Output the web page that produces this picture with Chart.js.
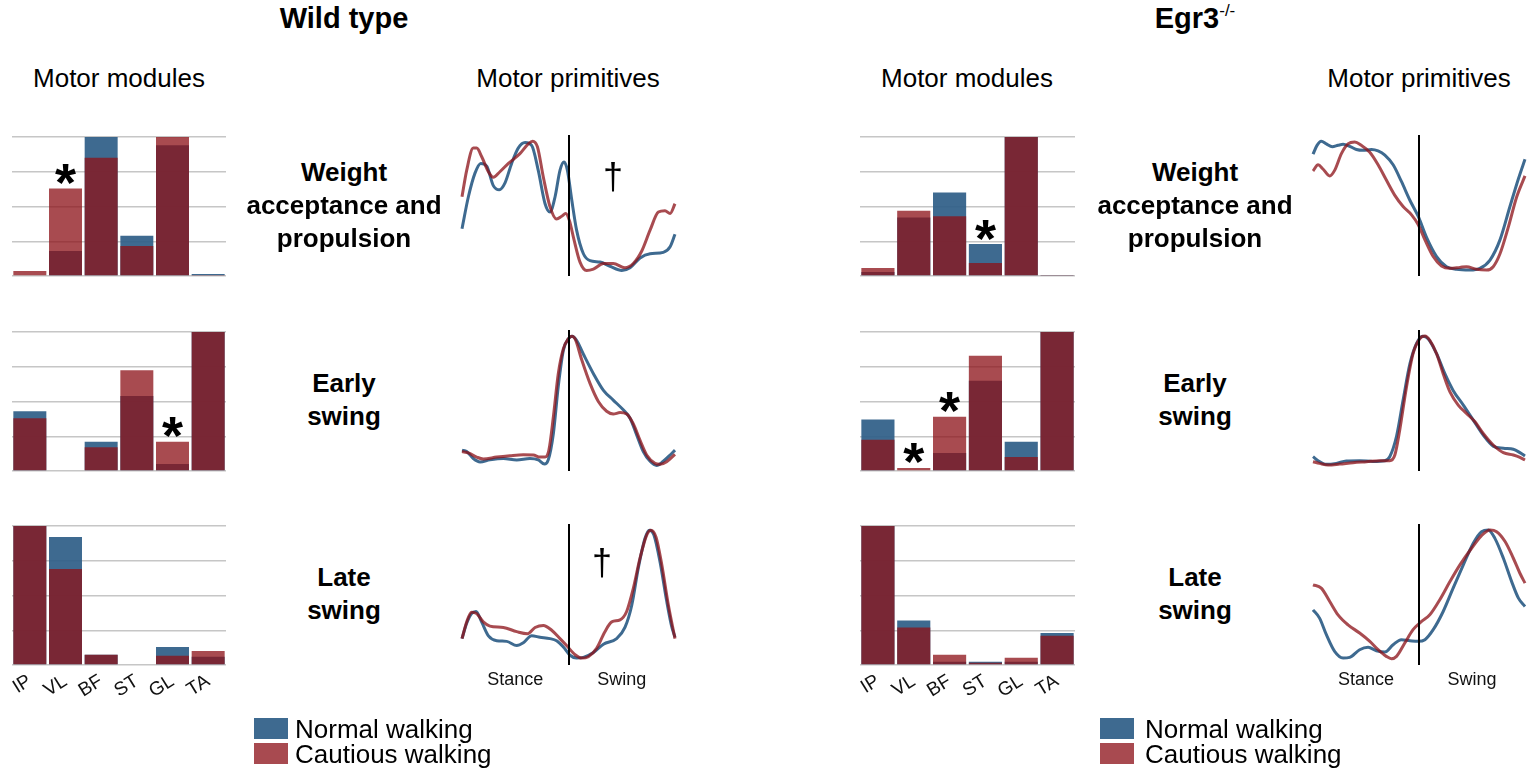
<!DOCTYPE html>
<html>
<head>
<meta charset="utf-8">
<title>Motor modules and motor primitives</title>
<script src="https://cdn.jsdelivr.net/npm/chart.js@4.4.1/dist/chart.umd.min.js"></script>
<style>
  html, body { margin: 0; padding: 0; background: #fff; }
  #fig { position: relative; width: 1528px; height: 770px; overflow: hidden;
         font-family: "Liberation Sans", Arial, Helvetica, sans-serif; color: #000; }
  #fig canvas { position: absolute; }
  .t { position: absolute; white-space: nowrap; }
  .sw { position: absolute; }
</style>
</head>
<body>
<div id="fig"></div>
<script>
// ---- data -------------------------------------------------------------
const muscles = ['IP', 'VL', 'BF', 'ST', 'GL', 'TA'];

// Motor modules (muscle weights, normalised to the largest muscle)
const wtWeightNormal   = [0.005, 0.18, 1.00, 0.29, 0.94, 0.014];
const wtWeightCautious = [0.036, 0.63, 0.85, 0.215, 1.00, 0.004];
const wtEarlyNormal    = [0.43, 0.005, 0.21, 0.54, 0.05, 1.00];
const wtEarlyCautious  = [0.38, 0.005, 0.17, 0.725, 0.21, 1.00];
const wtLateNormal     = [1.00, 0.92, 0.074, 0.006, 0.13, 0.06];
const wtLateCautious   = [1.00, 0.69, 0.074, 0.006, 0.067, 0.10];

const egrWeightNormal   = [0.029, 0.42, 0.60, 0.23, 1.00, 0.007];
const egrWeightCautious = [0.057, 0.47, 0.43, 0.093, 1.00, 0.007];
const egrEarlyNormal    = [0.37, 0.0, 0.13, 0.65, 0.21, 1.00];
const egrEarlyCautious  = [0.225, 0.022, 0.39, 0.83, 0.10, 1.00];
const egrLateNormal     = [1.00, 0.32, 0.024, 0.024, 0.024, 0.23];
const egrLateCautious   = [1.00, 0.27, 0.074, 0.017, 0.053, 0.21];

// Muscles with a significant normal vs cautious difference
const wtWeightSig  = ['VL'];
const wtEarlySig   = ['GL'];
const wtLateSig    = [];
const egrWeightSig = ['ST'];
const egrEarlySig  = ['VL', 'BF'];
const egrLateSig   = [];

// Motor primitives: [% of gait cycle, normalised activation]
const stanceEnd = 50;
const phaseTicks = [25, 75];
const phaseNames = ['Stance', 'Swing'];

const wtWeightNormalCurve = [[0,0.34],[3,0.57],[6.1,0.74],[8.8,0.81],[11.6,0.79],[14.7,0.65],[17.5,0.62],[20.2,0.67],[23.3,0.81],[26.4,0.92],[29.6,0.96],[32.7,0.94],[35.8,0.76],[39,0.52],[41.3,0.46],[43.7,0.57],[46,0.76],[47.9,0.82],[49.5,0.76],[51.5,0.55],[53.8,0.33],[57,0.16],[60.1,0.11],[64.8,0.10],[69.5,0.07],[75,0.04],[78.9,0.06],[83.6,0.13],[88.3,0.16],[94.5,0.17],[97.7,0.21],[100,0.30]];
const wtWeightCautiousCurve = [[0,0.57],[2.2,0.76],[5.3,0.92],[6.9,0.92],[9.2,0.86],[12.4,0.75],[14.7,0.71],[17.8,0.75],[21.8,0.81],[27.2,0.88],[31.1,0.95],[33.2,0.97],[35.4,0.93],[38.2,0.71],[41.3,0.50],[44.4,0.41],[46.8,0.43],[48.7,0.45],[50.4,0.40],[52.6,0.26],[55.4,0.10],[58.5,0.04],[61.7,0.05],[66.4,0.09],[71,0.09],[76.5,0.06],[80.4,0.09],[84.4,0.18],[88.3,0.33],[92.2,0.46],[95.3,0.47],[97.7,0.45],[100,0.52]];
const wtEarlyNormalCurve = [[0,0.15],[2.2,0.14],[5.3,0.09],[8.5,0.065],[13.1,0.08],[19.4,0.09],[25.7,0.08],[31.9,0.09],[35.8,0.08],[38.7,0.05],[40.5,0.08],[42.9,0.27],[45.2,0.61],[47.6,0.87],[49.9,0.95],[51.8,0.97],[53.8,0.94],[57,0.84],[61.7,0.70],[66.4,0.58],[71,0.51],[75.7,0.44],[78.9,0.38],[82,0.26],[85.1,0.14],[88.3,0.07],[91.4,0.04],[94.5,0.07],[97.7,0.115],[100,0.15]];
const wtEarlyCautiousCurve = [[0,0.14],[3,0.13],[6.9,0.10],[10,0.086],[16.3,0.10],[22.5,0.11],[28.8,0.117],[33.5,0.115],[36.6,0.10],[39,0.10],[40.8,0.15],[42.9,0.39],[45.2,0.70],[47.6,0.88],[49.9,0.95],[51.5,0.97],[53.1,0.95],[56.2,0.80],[60.1,0.63],[64,0.50],[67.9,0.43],[71,0.41],[74.2,0.42],[77.3,0.41],[80.4,0.34],[83.6,0.22],[86.7,0.115],[90.6,0.055],[93,0.048],[96.1,0.067],[100,0.12]];
const wtLateNormalCurve = [[0,0.19],[2.2,0.30],[4.5,0.37],[6.6,0.385],[9.2,0.31],[12.4,0.21],[16.3,0.175],[21,0.17],[25.7,0.14],[28.8,0.16],[32.7,0.21],[36.6,0.20],[41.3,0.19],[44.4,0.175],[47.6,0.13],[50.7,0.07],[53.8,0.05],[57,0.055],[61.7,0.09],[66.4,0.15],[72.6,0.19],[76.5,0.27],[79.7,0.43],[82.8,0.70],[85.9,0.91],[88,0.97],[90.1,0.935],[93,0.74],[96.1,0.46],[98.4,0.28],[100,0.20]];
const wtLateCautiousCurve = [[0,0.19],[2.2,0.31],[4.5,0.38],[6.9,0.37],[10,0.31],[13.1,0.28],[19.4,0.27],[25.7,0.24],[30.7,0.225],[34.3,0.27],[38.2,0.285],[42.1,0.25],[46,0.19],[49.1,0.14],[53.1,0.074],[56.2,0.05],[59.3,0.06],[63.2,0.12],[67.1,0.24],[70.3,0.31],[74.2,0.325],[77.3,0.385],[80.4,0.55],[83.6,0.77],[86.7,0.935],[88.7,0.97],[91.1,0.92],[93.7,0.73],[96.9,0.43],[100,0.19]];

const egrWeightNormalCurve = [[0,0.876],[1.9,0.94],[3.9,0.97],[6.3,0.95],[9.1,0.93],[11.8,0.94],[14.2,0.947],[17.3,0.933],[20.5,0.91],[23.6,0.904],[27.6,0.91],[30.7,0.90],[33.9,0.87],[37.8,0.80],[41.7,0.68],[45.7,0.545],[49.6,0.43],[53.5,0.28],[58.3,0.14],[63,0.067],[67.7,0.048],[74,0.043],[78.7,0.055],[83.5,0.115],[88.2,0.26],[92.9,0.50],[96.9,0.70],[100,0.84]];
const egrWeightCautiousCurve = [[0,0.756],[2.4,0.80],[4.7,0.77],[7.9,0.72],[10.2,0.76],[13.4,0.88],[16.5,0.95],[19.7,0.964],[22.8,0.94],[26.8,0.89],[30.7,0.80],[34.6,0.69],[38.6,0.58],[42.5,0.50],[46.5,0.44],[49.6,0.37],[52.8,0.26],[56.7,0.14],[60.6,0.072],[64.6,0.055],[69.3,0.062],[72.4,0.067],[77.2,0.048],[81.9,0.043],[85,0.067],[88.2,0.16],[92.1,0.35],[96.1,0.57],[100,0.72]];
const egrEarlyNormalCurve = [[0,0.103],[2.4,0.074],[6.3,0.048],[11,0.055],[15.7,0.072],[22,0.074],[28.3,0.069],[33.9,0.074],[36.2,0.103],[39.4,0.25],[42.5,0.51],[45.7,0.77],[48.8,0.916],[51.7,0.969],[54.3,0.952],[58.3,0.844],[62.2,0.70],[66.1,0.58],[70.9,0.474],[75.6,0.366],[80.3,0.258],[85,0.179],[89.8,0.163],[94.5,0.156],[97.6,0.132],[100,0.108]];
const egrEarlyCautiousCurve = [[0,0.067],[3.1,0.055],[7.1,0.043],[12.6,0.05],[18.9,0.06],[25.2,0.067],[31.5,0.074],[36.2,0.074],[38.6,0.115],[40.9,0.294],[44.1,0.605],[47.2,0.844],[50.4,0.952],[52.8,0.971],[55.1,0.94],[58.3,0.844],[61.4,0.70],[64.6,0.569],[68.5,0.474],[72.4,0.414],[76.4,0.354],[80.3,0.27],[85,0.187],[89.8,0.132],[94.5,0.115],[97.6,0.098],[100,0.079]];
const egrLateNormalCurve = [[0,0.397],[3.1,0.337],[6.3,0.218],[10.2,0.098],[14.2,0.05],[17.3,0.055],[22,0.11],[26,0.127],[29.9,0.103],[33.9,0.093],[37.8,0.146],[41.7,0.182],[45.7,0.175],[49.6,0.17],[52.8,0.182],[56.7,0.254],[61.4,0.385],[66.1,0.553],[70.9,0.72],[75.6,0.876],[79.5,0.959],[82.7,0.971],[85.8,0.911],[89.8,0.768],[93.7,0.60],[96.9,0.481],[100,0.421]];
const egrLateCautiousCurve = [[0,0.577],[3.9,0.553],[7.9,0.457],[11.8,0.361],[16.5,0.289],[22,0.23],[26.8,0.17],[30.7,0.11],[34.6,0.062],[37,0.045],[39.4,0.062],[43.3,0.158],[47.2,0.254],[51.2,0.313],[55.1,0.361],[59.8,0.469],[64.6,0.60],[69.3,0.72],[74.8,0.84],[79.5,0.931],[83.5,0.971],[86.6,0.959],[90.6,0.888],[94.5,0.768],[97.6,0.66],[100,0.589]];

// ---- styling ----------------------------------------------------------
const FONT = '"Liberation Sans", Arial, Helvetica, sans-serif';
const BLUE_BAR = 'rgba(47,95,136,0.93)';
const BLUE = 'rgb(62,106,144)';
const RED = 'rgba(141,18,25,0.76)';
const RED_ON_WHITE = 'rgb(168,74,80)';
const fig = document.getElementById('fig');

// ---- plugins ----------------------------------------------------------
// asterisk above the taller of the two bars for each flagged muscle
const sigPlugin = {
  id: 'sig',
  afterDatasetsDraw(chart, args, opts) {
    const marks = opts.marks || [];
    if (!marks.length) return;
    const { ctx } = chart;
    const xs = chart.scales.x, ys = chart.scales.y;
    ctx.save();
    ctx.font = 'bold 54px ' + FONT;
    ctx.fillStyle = '#000';
    ctx.textAlign = 'center';
    ctx.textBaseline = 'alphabetic';
    const m = ctx.measureText('*');
    const asc = m.actualBoundingBoxAscent, desc = m.actualBoundingBoxDescent;
    marks.forEach(name => {
      const i = chart.data.labels.indexOf(name);
      const top = Math.max(...chart.data.datasets.map(d => d.data[i]));
      const cx = xs.getPixelForValue(i);
      const cy = ys.getPixelForValue(top) - opts.gap;
      ctx.fillText('*', cx, cy + (asc - desc) / 2);
    });
    ctx.restore();
  }
};

// vertical line marking the stance / swing transition
const phasePlugin = {
  id: 'phase',
  afterDatasetsDraw(chart, args, opts) {
    const { ctx, chartArea } = chart;
    const px = Math.round(chart.scales.x.getPixelForValue(opts.at));
    ctx.save();
    ctx.strokeStyle = '#000';
    ctx.lineWidth = 2;
    ctx.beginPath();
    ctx.moveTo(px, chartArea.top - 2);
    ctx.lineTo(px, chartArea.bottom);
    ctx.stroke();
    ctx.restore();
  }
};

// ---- helpers ----------------------------------------------------------
function addCanvas(left, top, w, h, pad, extra) {
  const c = document.createElement('canvas');
  const cw = w + 2 * pad, ch = h + 2 * pad + extra;
  c.width = cw; c.height = ch;
  c.style.left = (left - pad) + 'px';
  c.style.top = (top - pad) + 'px';
  c.style.width = cw + 'px';
  c.style.height = ch + 'px';
  fig.appendChild(c);
  return c;
}

function moduleChart(left, top, w, h, normal, cautious, sig, showNames) {
  const pad = 24, extra = showNames ? 42 : 0;
  const c = addCanvas(left, top, w, h, pad, extra);
  return new Chart(c, {
    type: 'bar',
    data: {
      labels: muscles,
      datasets: [
        { label: 'Normal walking', data: normal, backgroundColor: BLUE_BAR, borderWidth: 0,
          grouped: false, order: 2, barPercentage: 0.925, categoryPercentage: 1 },
        { label: 'Cautious walking', data: cautious, backgroundColor: RED, borderWidth: 0,
          grouped: false, order: 1, barPercentage: 0.925, categoryPercentage: 1 }
      ]
    },
    options: {
      responsive: false, animation: false, devicePixelRatio: 1,
      layout: { padding: { left: pad, right: pad, top: pad, bottom: pad } },
      plugins: { legend: { display: false }, tooltip: { enabled: false }, sig: { marks: sig, gap: 14 } },
      scales: {
        x: {
          display: showNames, offset: true,
          grid: { display: false, drawTicks: false }, border: { display: false },
          ticks: { autoSkip: false, minRotation: 32, maxRotation: 32, padding: 5, color: '#111',
                   font: { family: FONT, size: 19 } },
          afterFit: s => { s.height = extra; }
        },
        y: {
          min: 0, max: 1,
          ticks: { display: false, stepSize: 0.25 },
          grid: { color: '#c6c6c6', lineWidth: 1.5, drawTicks: false },
          border: { display: false },
          afterFit: s => { s.width = 0; }
        }
      }
    },
    plugins: [sigPlugin]
  });
}

function primitiveChart(left, top, w, h, normal, cautious, showPhases) {
  const pad = 24, extra = showPhases ? 30 : 0;
  const c = addCanvas(left, top, w, h, pad, extra);
  const line = (label, data, color, order) => ({
    label, data, borderColor: color, borderWidth: 3, pointRadius: 0,
    cubicInterpolationMode: 'monotone', fill: false, clip: false, order
  });
  return new Chart(c, {
    type: 'line',
    data: { datasets: [line('Normal walking', normal, BLUE, 2), line('Cautious walking', cautious, RED, 1)] },
    options: {
      responsive: false, animation: false, devicePixelRatio: 1,
      layout: { padding: { left: pad, right: pad, top: pad, bottom: pad } },
      plugins: { legend: { display: false }, tooltip: { enabled: false }, phase: { at: stanceEnd } },
      scales: {
        x: {
          type: 'linear', min: 0, max: 100, display: showPhases,
          grid: { display: false, drawTicks: false }, border: { display: false },
          afterBuildTicks: s => { s.ticks = phaseTicks.map(v => ({ value: v })); },
          ticks: { autoSkip: false, maxRotation: 0, padding: 4, color: '#111',
                   font: { family: FONT, size: 18 },
                   callback: v => phaseNames[phaseTicks.indexOf(v)] },
          afterFit: s => { s.height = extra; }
        },
        y: { min: 0, max: 1, display: false }
      }
    },
    plugins: [phasePlugin]
  });
}

function text(html, x, baseline, size, bold, align) {
  const d = document.createElement('div');
  d.className = 't';
  d.style.fontSize = size + 'px';
  d.style.lineHeight = size + 'px';
  d.style.fontWeight = bold ? 'bold' : 'normal';
  d.style.top = (baseline - 0.8465 * size) + 'px';
  d.style.left = x + 'px';
  if (align !== 'left') d.style.transform = 'translateX(-50%)';
  d.innerHTML = html;
  fig.appendChild(d);
}

function swatch(x, y, color) {
  const s = document.createElement('div');
  s.className = 'sw';
  s.style.left = x + 'px'; s.style.top = y + 'px';
  s.style.width = '34px'; s.style.height = '21px';
  s.style.background = color;
  fig.appendChild(s);
}

// ---- layout -----------------------------------------------------------
const rowTop = [137, 332, 526];
const rowH = 139;

const panels = [
  { bars: { left: 12, w: 214 }, lines: { left: 462, w: 213 },
    modules: [[wtWeightNormal, wtWeightCautious, wtWeightSig],
              [wtEarlyNormal, wtEarlyCautious, wtEarlySig],
              [wtLateNormal, wtLateCautious, wtLateSig]],
    primitives: [[wtWeightNormalCurve, wtWeightCautiousCurve],
                 [wtEarlyNormalCurve, wtEarlyCautiousCurve],
                 [wtLateNormalCurve, wtLateCautiousCurve]] },
  { bars: { left: 860, w: 215 }, lines: { left: 1313, w: 212 },
    modules: [[egrWeightNormal, egrWeightCautious, egrWeightSig],
              [egrEarlyNormal, egrEarlyCautious, egrEarlySig],
              [egrLateNormal, egrLateCautious, egrLateSig]],
    primitives: [[egrWeightNormalCurve, egrWeightCautiousCurve],
                 [egrEarlyNormalCurve, egrEarlyCautiousCurve],
                 [egrLateNormalCurve, egrLateCautiousCurve]] }
];

panels.forEach(p => {
  rowTop.forEach((top, r) => {
    const [n, c, s] = p.modules[r];
    moduleChart(p.bars.left, top, p.bars.w, rowH, n, c, s, r === 2);
    const [ln, lc] = p.primitives[r];
    primitiveChart(p.lines.left, top, p.lines.w, rowH, ln, lc, r === 2);
  });
});

// ---- titles and labels ------------------------------------------------
text('Wild type', 344, 29, 29, true);
text('Egr3<span style="font-size:17px;font-weight:normal;position:relative;top:-12px;">-/-</span>', 1195, 29, 29, true);

text('Motor modules', 119, 87, 26, false);
text('Motor primitives', 568, 87, 26, false);
text('Motor modules', 967, 87, 26, false);
text('Motor primitives', 1419, 87, 26, false);

[344, 1195].forEach(cx => {
  text('Weight', cx, 181, 26, true);
  text('acceptance and', cx, 214, 26, true);
  text('propulsion', cx, 247, 26, true);
  text('Early', cx, 392, 26, true);
  text('swing', cx, 425, 26, true);
  text('Late', cx, 586, 26, true);
  text('swing', cx, 619, 26, true);
});

// significance daggers on the wild-type primitives
text('&#8224;', 613, 189, 36, false);
text('&#8224;', 602, 575, 36, false);

// legends
[[254, 295], [1100, 1145]].forEach(([bx, tx]) => {
  swatch(bx, 718, BLUE);
  swatch(bx, 743, RED_ON_WHITE);
  text('Normal walking', tx, 738, 26, false, 'left');
  text('Cautious walking', tx, 763, 26, false, 'left');
});
</script>
</body>
</html>
